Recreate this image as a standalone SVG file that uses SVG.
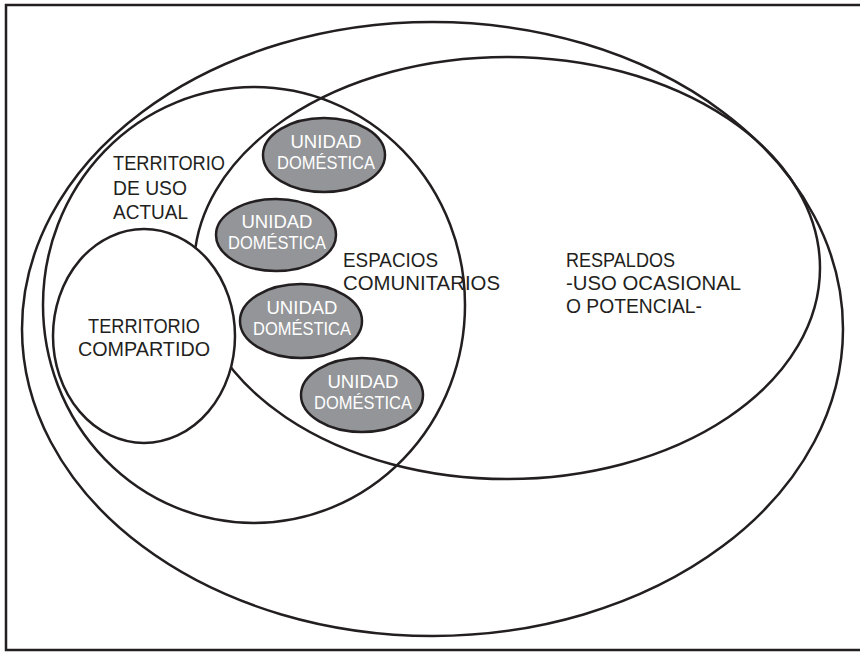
<svg xmlns="http://www.w3.org/2000/svg" width="860" height="653" viewBox="0 0 860 653">
<style>
.ln{fill:none;stroke:#231f20;stroke-width:2.5}
.wf{fill:#ffffff;stroke:#231f20;stroke-width:2.5}
.ud{fill:#939598;stroke:#231f20;stroke-width:2.5}
.lb{font-family:"Liberation Sans",Arial,sans-serif;font-size:20px;fill:#231f20}
.ut{font-family:"Liberation Sans",Arial,sans-serif;font-size:18.5px;fill:#ffffff;text-anchor:middle}
</style>
<rect x="0" y="0" width="860" height="653" fill="#ffffff"/>
<rect x="6" y="5" width="870" height="645" class="ln"/>
<g id="territorio-total">
<ellipse cx="432.5" cy="329" rx="410.5" ry="307" class="ln"/>
</g>
<g id="territorio-uso-actual">
<ellipse cx="254" cy="305" rx="211" ry="218" class="ln"/>
<text class="lb" x="113" y="170" textLength="112" lengthAdjust="spacingAndGlyphs">TERRITORIO</text>
<text class="lb" x="113" y="195" textLength="74" lengthAdjust="spacingAndGlyphs">DE USO</text>
<text class="lb" x="113" y="219" textLength="75" lengthAdjust="spacingAndGlyphs">ACTUAL</text>
</g>
<g id="respaldos">
<ellipse cx="507" cy="268" rx="313" ry="211" class="ln"/>
<text class="lb" x="566" y="267" textLength="109" lengthAdjust="spacingAndGlyphs">RESPALDOS</text>
<text class="lb" x="566" y="290" textLength="175" lengthAdjust="spacingAndGlyphs">-USO OCASIONAL</text>
<text class="lb" x="566" y="313" textLength="136" lengthAdjust="spacingAndGlyphs">O POTENCIAL-</text>
</g>
<g id="espacios-comunitarios">
<text class="lb" x="343" y="267" textLength="95" lengthAdjust="spacingAndGlyphs">ESPACIOS</text>
<text class="lb" x="343" y="290" textLength="157" lengthAdjust="spacingAndGlyphs">COMUNITARIOS</text>
</g>
<g id="territorio-compartido">
<ellipse cx="144" cy="336" rx="91" ry="107" class="wf"/>
<text class="lb" x="88" y="333" textLength="112" lengthAdjust="spacingAndGlyphs">TERRITORIO</text>
<text class="lb" x="78" y="356" textLength="132" lengthAdjust="spacingAndGlyphs">COMPARTIDO</text>
</g>
<g id="unidad-1">
<ellipse cx="324" cy="155" rx="61" ry="37" class="ud"/>
<text class="ut" x="326" y="148" textLength="71" lengthAdjust="spacingAndGlyphs">UNIDAD</text>
<text class="ut" x="326" y="169" textLength="98" lengthAdjust="spacingAndGlyphs">DOMÉSTICA</text>
</g>
<g id="unidad-2">
<ellipse cx="276" cy="235" rx="60" ry="36" class="ud"/>
<text class="ut" x="277" y="228" textLength="71" lengthAdjust="spacingAndGlyphs">UNIDAD</text>
<text class="ut" x="277" y="249" textLength="98" lengthAdjust="spacingAndGlyphs">DOMÉSTICA</text>
</g>
<g id="unidad-3">
<ellipse cx="301" cy="321" rx="61" ry="37" class="ud"/>
<text class="ut" x="302" y="314" textLength="71" lengthAdjust="spacingAndGlyphs">UNIDAD</text>
<text class="ut" x="302" y="335" textLength="98" lengthAdjust="spacingAndGlyphs">DOMÉSTICA</text>
</g>
<g id="unidad-4">
<ellipse cx="362" cy="395" rx="61" ry="37" class="ud"/>
<text class="ut" x="363" y="388" textLength="71" lengthAdjust="spacingAndGlyphs">UNIDAD</text>
<text class="ut" x="363" y="409" textLength="98" lengthAdjust="spacingAndGlyphs">DOMÉSTICA</text>
</g>
<g id="connectors"></g>
</svg>
